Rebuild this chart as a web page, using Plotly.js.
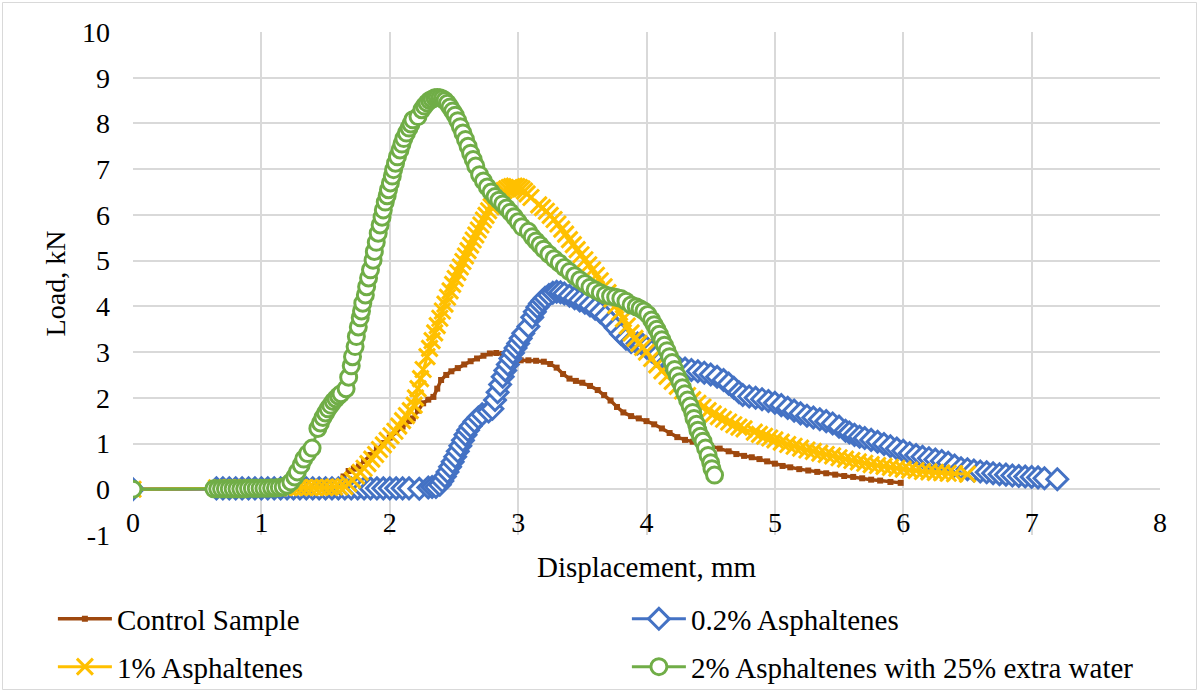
<!DOCTYPE html>
<html>
<head>
<meta charset="utf-8">
<script src="https://cdn.plot.ly/plotly-3.0.1.min.js"></script>
<style>
  html, body { margin: 0; padding: 0; background: #ffffff; font-family: 'Liberation Serif', serif; }
  #chart { width: 1199px; height: 692px; }
  #chart svg text { font-family: 'Liberation Serif', 'Times New Roman', serif !important; }
</style>
</head>
<body>
<div id="chart"></div>
<script>
// Load–displacement records for the four mixtures

const controlX = [0, 0.65, 0.75, 0.85, 0.95, 1.05, 1.15, 1.25, 1.35, 1.45, 1.50, 1.55, 1.60, 1.64, 1.68, 1.72, 1.76, 1.80, 1.85, 1.90, 1.95, 2.00, 2.05, 2.10, 2.15, 2.18, 2.22, 2.26, 2.30, 2.34, 2.37, 2.40, 2.44, 2.48, 2.53, 2.58, 2.63, 2.68, 2.73, 2.78, 2.83, 2.88, 2.93, 2.97, 3.02, 3.08, 3.14, 3.20, 3.25, 3.30, 3.35, 3.40, 3.45, 3.50, 3.56, 3.62, 3.67, 3.72, 3.77, 3.82, 3.88, 3.94, 4.00, 4.06, 4.12, 4.18, 4.24, 4.30, 4.36, 4.42, 4.50, 4.57, 4.64, 4.70, 4.76, 4.82, 4.88, 4.94, 5.00, 5.06, 5.12, 5.19, 5.26, 5.33, 5.40, 5.47, 5.54, 5.61, 5.68, 5.75, 5.82, 5.90, 5.98];
const controlY = [0, 0.02, 0.02, 0.02, 0.02, 0.02, 0.02, 0.02, 0.02, 0.02, 0.03, 0.05, 0.15, 0.28, 0.40, 0.45, 0.50, 0.62, 0.75, 0.88, 1.01, 1.13, 1.25, 1.37, 1.49, 1.55, 1.72, 1.88, 1.96, 2.02, 2.20, 2.39, 2.50, 2.58, 2.65, 2.73, 2.80, 2.86, 2.92, 2.97, 2.98, 2.96, 2.88, 2.82, 2.82, 2.82, 2.81, 2.79, 2.74, 2.66, 2.52, 2.42, 2.37, 2.33, 2.26, 2.17, 2.06, 1.94, 1.80, 1.68, 1.60, 1.55, 1.49, 1.42, 1.33, 1.23, 1.14, 1.08, 1.04, 1.01, 0.95, 0.89, 0.83, 0.77, 0.73, 0.70, 0.66, 0.61, 0.56, 0.51, 0.48, 0.44, 0.41, 0.38, 0.35, 0.32, 0.29, 0.27, 0.24, 0.21, 0.19, 0.16, 0.14];

const asp02X = [0, 0.65, 0.70, 0.75, 0.80, 0.85, 0.90, 0.95, 1.00, 1.05, 1.10, 1.15, 1.20, 1.25, 1.30, 1.35, 1.40, 1.45, 1.50, 1.55, 1.60, 1.65, 1.70, 1.75, 1.80, 1.85, 1.90, 1.95, 2.00, 2.05, 2.10, 2.15, 2.23, 2.30, 2.33, 2.36, 2.39, 2.41, 2.43, 2.45, 2.47, 2.49, 2.51, 2.53, 2.55, 2.57, 2.59, 2.61, 2.63, 2.66, 2.69, 2.72, 2.77, 2.80, 2.82, 2.84, 2.86, 2.88, 2.90, 2.92, 2.94, 2.96, 2.98, 3.00, 3.02, 3.04, 3.08, 3.11, 3.13, 3.15, 3.17, 3.19, 3.21, 3.24, 3.27, 3.30, 3.33, 3.36, 3.40, 3.44, 3.48, 3.52, 3.56, 3.60, 3.64, 3.68, 3.72, 3.76, 3.80, 3.84, 3.88, 3.93, 3.97, 4.00, 4.04, 4.08, 4.12, 4.16, 4.20, 4.25, 4.30, 4.35, 4.40, 4.45, 4.50, 4.55, 4.60, 4.64, 4.68, 4.72, 4.75, 4.80, 4.85, 4.90, 4.95, 5.00, 5.05, 5.10, 5.15, 5.20, 5.25, 5.30, 5.35, 5.40, 5.45, 5.50, 5.55, 5.58, 5.62, 5.66, 5.70, 5.75, 5.80, 5.85, 5.90, 5.95, 6.00, 6.05, 6.10, 6.15, 6.20, 6.25, 6.30, 6.35, 6.40, 6.45, 6.50, 6.55, 6.60, 6.65, 6.70, 6.75, 6.80, 6.85, 6.90, 6.95, 7.00, 7.05, 7.10, 7.20];
const asp02Y = [0, 0.02, 0.02, 0.02, 0.02, 0.02, 0.02, 0.02, 0.02, 0.02, 0.02, 0.02, 0.02, 0.02, 0.02, 0.02, 0.02, 0.02, 0.02, 0.02, 0.02, 0.02, 0.02, 0.02, 0.02, 0.02, 0.02, 0.02, 0.02, 0.02, 0.02, 0.02, 0.01, 0.04, 0.05, 0.05, 0.10, 0.18, 0.28, 0.38, 0.49, 0.60, 0.71, 0.83, 0.95, 1.07, 1.19, 1.29, 1.38, 1.48, 1.57, 1.64, 1.70, 1.76, 1.95, 2.12, 2.29, 2.46, 2.60, 2.73, 2.86, 2.98, 3.09, 3.19, 3.30, 3.41, 3.56, 3.76, 3.88, 3.98, 4.06, 4.13, 4.19, 4.25, 4.30, 4.32, 4.31, 4.28, 4.23, 4.18, 4.13, 4.08, 4.02, 3.95, 3.87, 3.78, 3.66, 3.53, 3.40, 3.29, 3.22, 3.19, 3.16, 3.10, 3.02, 2.92, 2.83, 2.76, 2.71, 2.67, 2.64, 2.61, 2.58, 2.55, 2.51, 2.46, 2.39, 2.31, 2.22, 2.12, 2.06, 2.03, 2.00, 1.97, 1.93, 1.89, 1.84, 1.78, 1.72, 1.66, 1.61, 1.57, 1.53, 1.49, 1.44, 1.37, 1.28, 1.24, 1.19, 1.15, 1.12, 1.08, 1.04, 0.99, 0.94, 0.89, 0.84, 0.79, 0.75, 0.71, 0.68, 0.65, 0.62, 0.58, 0.52, 0.46, 0.44, 0.41, 0.39, 0.37, 0.35, 0.33, 0.32, 0.30, 0.29, 0.28, 0.27, 0.26, 0.24, 0.22];

const asp1X = [0, 0.65, 0.69, 0.73, 0.77, 0.81, 0.85, 0.89, 0.93, 0.97, 1.01, 1.05, 1.09, 1.13, 1.17, 1.21, 1.25, 1.29, 1.33, 1.37, 1.41, 1.45, 1.49, 1.53, 1.57, 1.61, 1.65, 1.68, 1.71, 1.74, 1.77, 1.80, 1.83, 1.86, 1.89, 1.92, 1.95, 1.98, 2.01, 2.04, 2.07, 2.10, 2.13, 2.16, 2.19, 2.20, 2.22, 2.24, 2.26, 2.29, 2.31, 2.33, 2.35, 2.37, 2.39, 2.41, 2.43, 2.45, 2.47, 2.49, 2.51, 2.53, 2.55, 2.57, 2.59, 2.61, 2.63, 2.65, 2.67, 2.69, 2.71, 2.73, 2.75, 2.77, 2.79, 2.81, 2.83, 2.85, 2.87, 2.89, 2.91, 2.93, 2.95, 2.97, 2.99, 3.01, 3.03, 3.05, 3.07, 3.10, 3.16, 3.19, 3.22, 3.25, 3.28, 3.31, 3.34, 3.37, 3.40, 3.43, 3.46, 3.49, 3.52, 3.55, 3.58, 3.61, 3.64, 3.67, 3.70, 3.73, 3.76, 3.79, 3.82, 3.85, 3.88, 3.91, 3.94, 3.97, 4.00, 4.04, 4.08, 4.12, 4.16, 4.20, 4.24, 4.28, 4.32, 4.36, 4.40, 4.44, 4.48, 4.52, 4.56, 4.60, 4.64, 4.68, 4.72, 4.76, 4.84, 4.88, 4.92, 4.96, 5.00, 5.05, 5.10, 5.15, 5.20, 5.25, 5.30, 5.35, 5.40, 5.45, 5.50, 5.55, 5.60, 5.65, 5.70, 5.75, 5.80, 5.85, 5.90, 5.95, 6.00, 6.05, 6.10, 6.15, 6.20, 6.25, 6.30, 6.35, 6.40, 6.50];
const asp1Y = [0, 0.03, 0.03, 0.03, 0.03, 0.03, 0.03, 0.03, 0.03, 0.03, 0.03, 0.03, 0.03, 0.03, 0.04, 0.04, 0.04, 0.04, 0.04, 0.04, 0.04, 0.04, 0.04, 0.04, 0.05, 0.05, 0.06, 0.12, 0.20, 0.29, 0.37, 0.46, 0.56, 0.66, 0.76, 0.87, 0.97, 1.07, 1.17, 1.27, 1.38, 1.50, 1.61, 1.72, 1.84, 2.00, 2.20, 2.42, 2.62, 2.90, 3.08, 3.25, 3.42, 3.58, 3.74, 3.90, 4.05, 4.20, 4.34, 4.48, 4.61, 4.74, 4.86, 4.98, 5.10, 5.22, 5.34, 5.45, 5.56, 5.67, 5.78, 5.89, 5.99, 6.09, 6.18, 6.27, 6.35, 6.42, 6.48, 6.53, 6.57, 6.60, 6.62, 6.63, 6.62, 6.60, 6.57, 6.52, 6.46, 6.38, 6.22, 6.16, 6.08, 5.99, 5.90, 5.80, 5.69, 5.58, 5.46, 5.35, 5.24, 5.13, 5.02, 4.91, 4.80, 4.68, 4.56, 4.43, 4.30, 4.16, 4.02, 3.87, 3.73, 3.57, 3.42, 3.30, 3.19, 3.10, 3.00, 2.86, 2.72, 2.59, 2.47, 2.36, 2.25, 2.15, 2.05, 1.96, 1.88, 1.80, 1.72, 1.65, 1.59, 1.53, 1.47, 1.41, 1.36, 1.32, 1.25, 1.20, 1.16, 1.12, 1.08, 1.03, 0.98, 0.94, 0.90, 0.86, 0.83, 0.79, 0.76, 0.73, 0.69, 0.66, 0.63, 0.60, 0.57, 0.54, 0.52, 0.50, 0.48, 0.46, 0.44, 0.42, 0.41, 0.39, 0.38, 0.37, 0.36, 0.35, 0.34, 0.33];

const asp2wX = [0, 0.63, 0.66, 0.69, 0.72, 0.75, 0.78, 0.81, 0.84, 0.87, 0.90, 0.93, 0.96, 0.99, 1.02, 1.05, 1.08, 1.11, 1.14, 1.17, 1.20, 1.23, 1.26, 1.28, 1.31, 1.33, 1.36, 1.395, 1.44, 1.46, 1.48, 1.50, 1.52, 1.54, 1.56, 1.58, 1.60, 1.62, 1.66, 1.68, 1.70, 1.71, 1.73, 1.74, 1.755, 1.77, 1.78, 1.79, 1.81, 1.82, 1.835, 1.85, 1.87, 1.88, 1.895, 1.91, 1.925, 1.94, 1.95, 1.965, 1.98, 1.99, 2.005, 2.02, 2.03, 2.045, 2.06, 2.08, 2.095, 2.11, 2.13, 2.15, 2.165, 2.18, 2.22, 2.25, 2.27, 2.29, 2.31, 2.33, 2.35, 2.37, 2.39, 2.41, 2.43, 2.45, 2.47, 2.49, 2.51, 2.53, 2.55, 2.57, 2.59, 2.61, 2.63, 2.65, 2.67, 2.70, 2.73, 2.76, 2.79, 2.82, 2.85, 2.88, 2.91, 2.94, 2.97, 3.00, 3.03, 3.08, 3.11, 3.14, 3.17, 3.20, 3.24, 3.28, 3.32, 3.36, 3.40, 3.44, 3.48, 3.52, 3.56, 3.60, 3.64, 3.68, 3.72, 3.76, 3.80, 3.84, 3.88, 3.92, 3.95, 3.98, 4.01, 4.04, 4.06, 4.08, 4.10, 4.12, 4.14, 4.16, 4.18, 4.20, 4.22, 4.24, 4.26, 4.28, 4.30, 4.32, 4.34, 4.36, 4.37, 4.39, 4.40, 4.42, 4.44, 4.46, 4.48, 4.50, 4.51, 4.53];
const asp2wY = [0, 0.01, 0.01, 0.01, 0.01, 0.01, 0.01, 0.01, 0.01, 0.01, 0.02, 0.02, 0.02, 0.02, 0.02, 0.02, 0.03, 0.03, 0.04, 0.05, 0.09, 0.16, 0.27, 0.38, 0.53, 0.66, 0.78, 0.90, 1.33, 1.45, 1.57, 1.67, 1.76, 1.84, 1.92, 1.98, 2.04, 2.09, 2.20, 2.45, 2.70, 2.90, 3.12, 3.34, 3.55, 3.75, 3.90, 4.07, 4.25, 4.43, 4.62, 4.80, 5.01, 5.20, 5.40, 5.60, 5.78, 5.95, 6.11, 6.28, 6.42, 6.55, 6.70, 6.85, 6.99, 7.13, 7.27, 7.42, 7.55, 7.67, 7.79, 7.90, 7.99, 8.08, 8.15, 8.30, 8.38, 8.45, 8.50, 8.53, 8.56, 8.57, 8.56, 8.54, 8.50, 8.44, 8.36, 8.27, 8.18, 8.06, 7.93, 7.79, 7.65, 7.50, 7.35, 7.21, 7.07, 6.88, 6.74, 6.61, 6.50, 6.40, 6.32, 6.24, 6.15, 6.06, 5.96, 5.85, 5.74, 5.64, 5.52, 5.43, 5.34, 5.25, 5.14, 5.04, 4.95, 4.85, 4.76, 4.67, 4.58, 4.50, 4.42, 4.36, 4.30, 4.25, 4.22, 4.20, 4.17, 4.11, 4.03, 3.99, 3.95, 3.90, 3.82, 3.70, 3.60, 3.50, 3.39, 3.27, 3.15, 3.03, 2.90, 2.77, 2.62, 2.48, 2.35, 2.22, 2.09, 1.95, 1.82, 1.68, 1.55, 1.42, 1.29, 1.16, 1.05, 0.90, 0.74, 0.58, 0.45, 0.31];

const seriesNames = ['Control Sample', '0.2% Asphaltenes', '1% Asphaltenes', '2% Asphaltenes with 25% extra water'];
const xTicks = [0, 1, 2, 3, 4, 5, 6, 7, 8];
const yTicks = [-1, 0, 1, 2, 3, 4, 5, 6, 7, 8, 9, 10];

const FONT = 'Liberation Serif';
const GRID = '#d9d9d9';

const traces = [
  {
    x: controlX, y: controlY, name: seriesNames[0], legend: 'legend',
    type: 'scatter', mode: 'lines+markers',
    line: { color: '#9e480e', width: 3.5 },
    marker: { symbol: 'square', size: 6, color: '#9e480e' }
  },
  {
    x: asp02X, y: asp02Y, name: seriesNames[1], legend: 'legend',
    type: 'scatter', mode: 'lines+markers',
    line: { color: '#4472c4', width: 3 },
    marker: { symbol: 'diamond', size: 16, color: '#ffffff', line: { color: '#4472c4', width: 3 } }
  },
  {
    x: asp1X, y: asp1Y, name: seriesNames[2], legend: 'legend2',
    type: 'scatter', mode: 'lines+markers',
    line: { color: '#ffc000', width: 3 },
    marker: { symbol: 'x-thin', size: 16, color: '#ffc000', line: { color: '#ffc000', width: 3 } }
  },
  {
    x: asp2wX, y: asp2wY, name: seriesNames[3], legend: 'legend2',
    type: 'scatter', mode: 'lines+markers',
    line: { color: '#70ad47', width: 3 },
    marker: { symbol: 'circle', size: 16, color: '#ffffff', line: { color: '#70ad47', width: 3 } }
  }
];

// plot area: x 133..1160 px, y 32..535 px
const legendCommon = {
  orientation: 'h',
  xanchor: 'left',
  yanchor: 'middle',
  x: -0.078,
  font: { family: FONT, size: 29, color: '#000000' },
  bgcolor: 'rgba(0,0,0,0)',
  itemwidth: 54,
  entrywidth: 505,
  entrywidthmode: 'pixels',
  itemclick: false,
  itemdoubleclick: false
};

const layout = {
  width: 1199,
  height: 692,
  margin: { l: 133, r: 39, t: 32, b: 157, autoexpand: false },
  paper_bgcolor: '#ffffff',
  plot_bgcolor: '#ffffff',
  font: { family: FONT, size: 28, color: '#000000' },
  showlegend: true,
  legend: Object.assign({}, legendCommon, { y: -0.167 }),
  legend2: Object.assign({}, legendCommon, { y: -0.262 }),
  xaxis: {
    range: [0, 8],
    tickvals: xTicks,
    ticktext: xTicks.map(String),
    anchor: 'free',
    position: 1 / 11,
    automargin: false,
    showgrid: true,
    gridcolor: GRID,
    gridwidth: 2,
    zeroline: false,
    showline: false,
    ticks: '',
    ticklabelstandoff: 14,
    tickfont: { family: FONT, size: 28, color: '#000000' },
    title: { text: 'Displacement, mm', font: { family: FONT, size: 29, color: '#000000' }, standoff: 19 }
  },
  yaxis: {
    range: [-1, 10],
    tickvals: yTicks,
    ticktext: yTicks.map(String),
    automargin: false,
    showgrid: true,
    gridcolor: GRID,
    gridwidth: 2,
    zeroline: false,
    showline: false,
    ticks: '',
    ticklabelstandoff: 22,
    tickfont: { family: FONT, size: 28, color: '#000000' },
    title: { text: 'Load, kN', font: { family: FONT, size: 28, color: '#000000' }, standoff: 8 }
  },
  shapes: [{
    type: 'rect', xref: 'paper', yref: 'paper',
    x0: (2.5 - 133) / 1027, x1: (1196.5 - 133) / 1027,
    y0: (535 - 689.5) / 503, y1: (535 - 2.5) / 503,
    line: { color: GRID, width: 1 }, fillcolor: 'rgba(0,0,0,0)', layer: 'below'
  }]
};

function draw() {
  Plotly.newPlot('chart', traces, layout, { displayModeBar: false, staticPlot: true });
}

// make sure the serif face is ready before text is measured
if (document.fonts && document.fonts.load) {
  document.fonts.load('28px "Liberation Serif"').then(draw, draw);
} else {
  draw();
}
</script>
</body>
</html>
